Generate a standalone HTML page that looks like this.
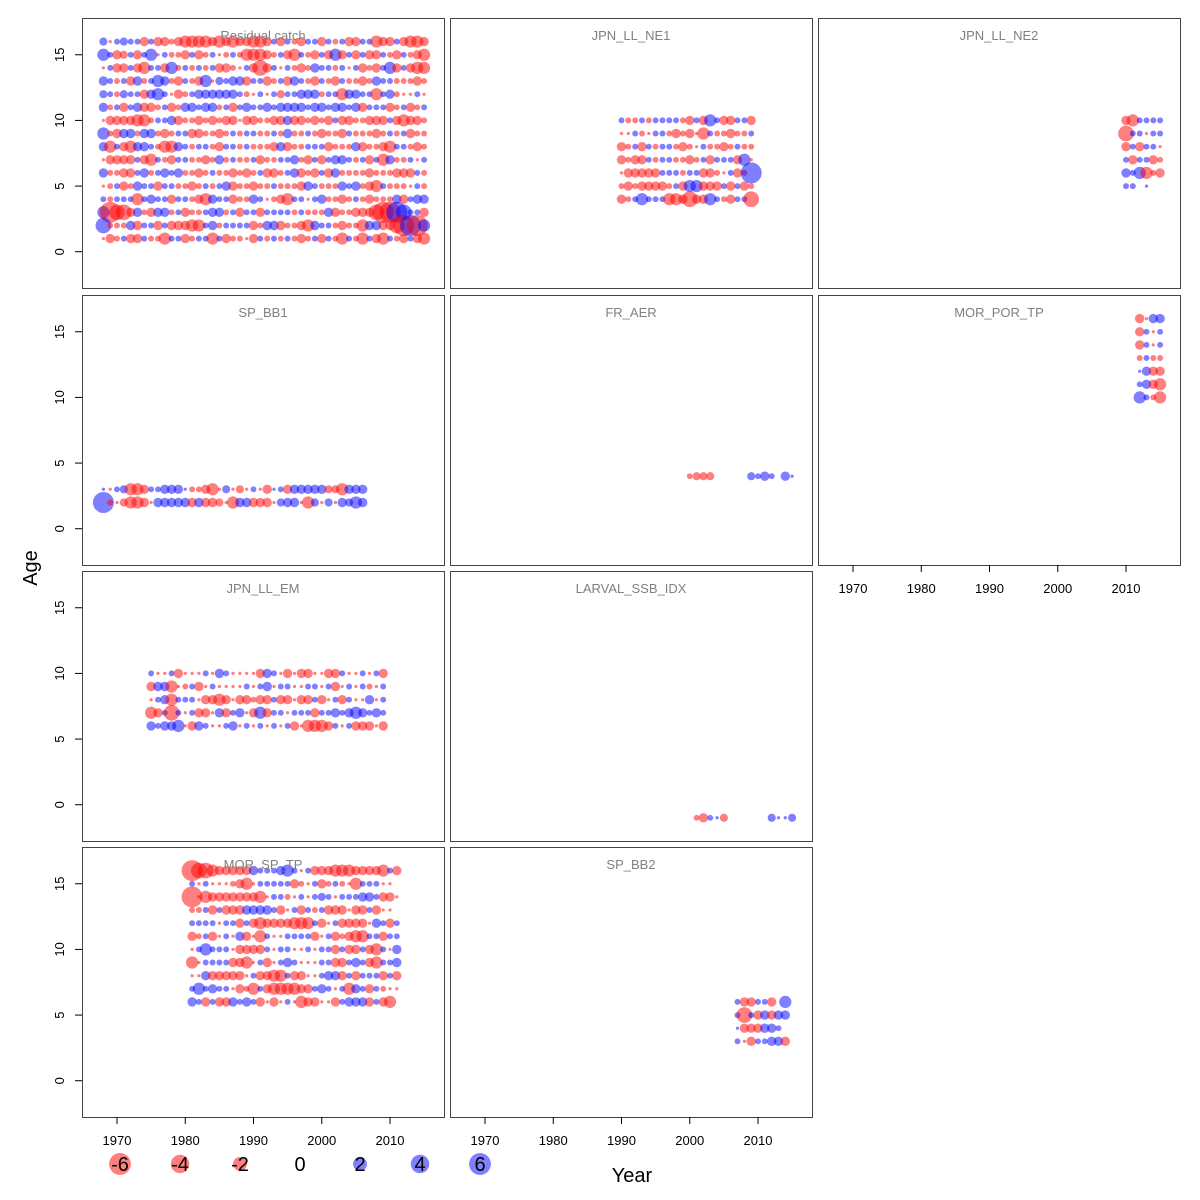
<!DOCTYPE html>
<html><head><meta charset="utf-8"><style>
html,body{margin:0;padding:0;background:#fff;}
svg{display:block;font-family:"Liberation Sans",sans-serif;}
</style></head><body>
<svg id="chart" width="1200" height="1200" viewBox="0 0 1200 1200" xmlns="http://www.w3.org/2000/svg"></svg>
<script>
// ---- data (residual codes: lowercase = negative, uppercase = positive; space = none)
const codeMagnitudes = {a:0.12,b:0.4,c:0.75,d:1.0,e:1.7,f:2.8,g:5};
const xTickYears = [1970,1980,1990,2000,2010];
const yTickAges = [0,5,10,15];
const legendValues = [-6,-4,-2,0,2,4,6];

const residualCatchStart = 1968, residualCatchTopAge = 16;
const residualCatchRows = [
"CaBCBBdBddbdeeeedededdeedBdBbdBBdBbBddBBeddBdeed",
"EBdcBdBEaBbbdBdbBabBbeeedbBdeBbdBdEdBdBddBbdBbde",
"aBddBdeBBdEbBbBbBddbaBdfdBaBbdbDBBbBaBdbdBEdBdee",
"DBbBdDbBEDbdBbdEaCBDDdBBdbBdDBbdBbdBbbdbDBBbbbdb",
"CBbCBBdDEBadbBDDDDDDBbaBaBcBBDDDbBBeDDBBeBDbaaBa",
"DbBdBDddbBdbDDBDDbBdBDBBDBDDDDBDDBDDBDdBBBdbBdbB",
"addddeebBBDdbbdbdbddaddbbddDddbdbdBddbbdddBdeddb",
"EbdDDbDDbdbBBddbbdbBbBBbbBbDbbBbdbbdBbbbdbBbBdbb",
"DeBdeDDBbeeDBbBBbdBBbBbbbdDdbbBBBdbbbDdbbdeBBbdb",
"addddBdeBbdBBbbdbDbBbbBdbbBBDbdBdBDDBbBdBeDbbBaB",
"DbbddBDbBDBDbbdbBbbdbdbBddbBDdbdBdDbbbbdbbbdddBb",
"abBdbDBBdBBbbdbBbBDdbbdbbBbbbdDBbbbDBDbdeBbbbaBb",
"BbBBBeBDBBdBBbdeDBBdbbDBabdeBBaBDbbdbBbdbbbDdBDD",
"EgffdDbdDDbBdbbBDDbBdBBdBBBBbBbbbDdbbdddfggGFBBd",
"FbbbDdBBdBdddeeBDbBBBBdbDDdbbdeDBBbdbbeDDddfgGgE",
"adbBddBbbeBBdbBBeBdbbadBbBbBbdbBdBbeBbeBdeBbdBde"
];
const jpnNe1Start = 1990, jpnNe1TopAge = 10;
const jpnNe1Rows = ["BbbBbBBBBbdBdEBddBBd","aaBbaBBbdbdaeBbbdbbB","dbBdBbBBbdbaBbbdbBbb","dbddBbBBbbdbBdBBBdEa","adddddBBBbBBddbaBdbG","bdbddddbBdEEdddBdBdb","dbBEBBBeedfddEBbdBBf"];
const jpnNe2Start = 2010, jpnNe2TopAge = 10;
const jpnNe2Rows = ["deBBBB","fBBaBB","dBdBBa","BdBBdb","DBEebd","BB A  "];
const spBb1Start = 1968, spBb1TopAge = 3;
const spBb1Rows = ["AaBCeedBBDDDAbbdeaCacaBadABdDDDDDcceDDD","GbaceedaDDDDDdDddcaeDDdddaCDDaeCaCaDCED"];
const frAerStart = 2000, frAerTopAge = 4;
const frAerRows = ["bccc     CBDB DA"];
const morPorStart = 2012, morPorTopAge = 16;
const morPorRows = ["daDD","dBaB","dBaB","bBbb","ADdd","BDde","EBbe"];
const jpnEmStart = 1975, jpnEmTopAge = 10;
const jpnEmRows = ["BaaBdaaaBaDBaaaadDBadaddaaddBaaBaBd","dDDeabBdaBaaaaBaBDaBBaaBBaBdaBaBbaB","aBDeBBBaddedaddbddBddaddBdaBdBaaDaB","edBfBaBddaDdBDadEdBBaBBBdBBDBDEDBDB","DBDDEadDBaaBDaBaBaBaBdaeeedBaBdddad"];
const larvalStart = 2001, larvalTopAge = -1;
const larvalRows = ["bdBAc      CAAC"];
const morSpStart = 1981, morSpTopAge = 16;
const morSpRows = ["gffedddddDBBBDEBaBdddeeeddddeBd","BaBaaabdeaBBBBBdbaBdbBbaeBBBaa","gaedddddddeaBBbaBaBCBaBBBDDBdda","bbBdBdddDDDDBdaBdBbBdddaddBdaa","BBBBaBBdBdeddddeeeBdaBddddaDBdB","dbBdaBaDdaeBaaBBBBdaBdbdeeBBdBB","aBEBBBaddddBaBBaaBaBBdBddBdeBaD","eaBBBBddeaBdaBDBaaaBBddBDBdeBBD","aaDdddddaBddeeBddaaBDDdBdBBBdBd","BEBDBBadbeBdeeeeddBDBaBeDBdBbaa","DBdBddDBDBdadaBaeddaadBDDDdBde"];
const spBb2Start = 2007, spBb2TopAge = 6;
const spBb2Rows = ["BddBBd E","BfBdDdDD","AdddDDB","BadBBDDd"];

// ---- layout
const NS = "http://www.w3.org/2000/svg";
const svg = document.getElementById('chart');
const colX = [82,450,818], rowY = [18,295,571,847], PW = 362, PH = 270;
const yearMin = 1964.87, pxPerYear = 6.825, ageMax = 17.8, pxPerAge = 13.13;
function xScale(col, year){ return colX[col] + (year - yearMin)*pxPerYear; }
function yScale(row, age){ return rowY[row] + (ageMax - age)*pxPerAge; }
function rScale(v){ return 4.7*Math.sqrt(Math.abs(v)); }
function decode(ch){ if(ch===' '||ch==='.') return null; const m = codeMagnitudes[ch.toLowerCase()]; if(m===undefined) return null; return ch===ch.toLowerCase() ? -m : m; }
function mk(tag, attrs){ const e = document.createElementNS(NS, tag); for(const k in attrs) e.setAttribute(k, attrs[k]); svg.appendChild(e); return e; }

const panels = [
 {title:"Residual catch", col:0,row:0,start:residualCatchStart,top:residualCatchTopAge,rows:residualCatchRows,key:"residual-catch"},
 {title:"JPN_LL_NE1", col:1,row:0,start:jpnNe1Start,top:jpnNe1TopAge,rows:jpnNe1Rows,key:"jpn-ll-ne1"},
 {title:"JPN_LL_NE2", col:2,row:0,start:jpnNe2Start,top:jpnNe2TopAge,rows:jpnNe2Rows,key:"jpn-ll-ne2"},
 {title:"SP_BB1", col:0,row:1,start:spBb1Start,top:spBb1TopAge,rows:spBb1Rows,key:"sp-bb1"},
 {title:"FR_AER", col:1,row:1,start:frAerStart,top:frAerTopAge,rows:frAerRows,key:"fr-aer"},
 {title:"MOR_POR_TP", col:2,row:1,start:morPorStart,top:morPorTopAge,rows:morPorRows,key:"mor-por-tp"},
 {title:"JPN_LL_EM", col:0,row:2,start:jpnEmStart,top:jpnEmTopAge,rows:jpnEmRows,key:"jpn-ll-em"},
 {title:"LARVAL_SSB_IDX", col:1,row:2,start:larvalStart,top:larvalTopAge,rows:larvalRows,key:"larval-ssb-idx"},
 {title:"MOR_SP_TP", col:0,row:3,start:morSpStart,top:morSpTopAge,rows:morSpRows,key:"mor-sp-tp"},
 {title:"SP_BB2", col:1,row:3,start:spBb2Start,top:spBb2TopAge,rows:spBb2Rows,key:"sp-bb2"}
];

panels.forEach(p=>{
  const x0 = colX[p.col], y0 = rowY[p.row];
  const box = mk('rect',{x:x0+0.5,y:y0+0.5,width:PW,height:PH,fill:'none',stroke:'#444','stroke-width':1});
  
  
  p.rows.forEach((str, i)=>{
    const age = p.top - i;
    for(let j=0;j<str.length;j++){
      const v = decode(str[j]); if(v===null) continue;
      const c = mk('circle',{cx:xScale(p.col, p.start+j).toFixed(1), cy:yScale(p.row, age).toFixed(1), r:rScale(v).toFixed(2), fill: v<0 ? 'rgba(255,0,0,0.5)' : 'rgba(0,0,255,0.5)'});
      
      
    }
  });
  const t = mk('text',{x:x0+PW/2,y:y0+22,'text-anchor':'middle','font-size':13,fill:'#808080'});
  t.textContent = p.title;
  
  
  if(p.col===0){
    yTickAges.forEach(a=>{
      const y = yScale(p.row, a);
      const tk = mk('line',{x1:x0-7,x2:x0,y1:y,y2:y,stroke:'#000'});
      
      
      const tl = mk('text',{x:64,y:y,'text-anchor':'middle','font-size':13,transform:`rotate(-90 64 ${y})`});
      tl.textContent = a;
      
      
    });
  }
});

// x axes at column bottoms
[[0,3],[1,3],[2,1]].forEach(([col,row])=>{
  const yb = rowY[row]+PH;
  xTickYears.forEach(yr=>{
    const x = xScale(col, yr);
    const tk = mk('line',{x1:x,x2:x,y1:yb,y2:yb+7,stroke:'#000'});
    
    
    const tl = mk('text',{x:x,y:yb+28,'text-anchor':'middle','font-size':13});
    tl.textContent = yr;
    
    
  });
});

const yt = mk('text',{x:37,y:568,'text-anchor':'middle','font-size':20,transform:'rotate(-90 37 568)'});
yt.textContent = 'Age';


const xt = mk('text',{x:632,y:1182,'text-anchor':'middle','font-size':20});
xt.textContent = 'Year';



// legend
legendValues.forEach((v,i)=>{
  const x = 120 + i*60, y = 1164;
  if(v!==0){
    const c = mk('circle',{cx:x,cy:y,r:rScale(v)*0.82+1.5,fill: v<0 ? 'rgba(255,0,0,0.5)' : 'rgba(0,0,255,0.5)'});
    
    
  }
  const t = mk('text',{x:x,y:y+7,'text-anchor':'middle','font-size':20});
  t.textContent = v;
  
  
});
</script>
</body></html>
